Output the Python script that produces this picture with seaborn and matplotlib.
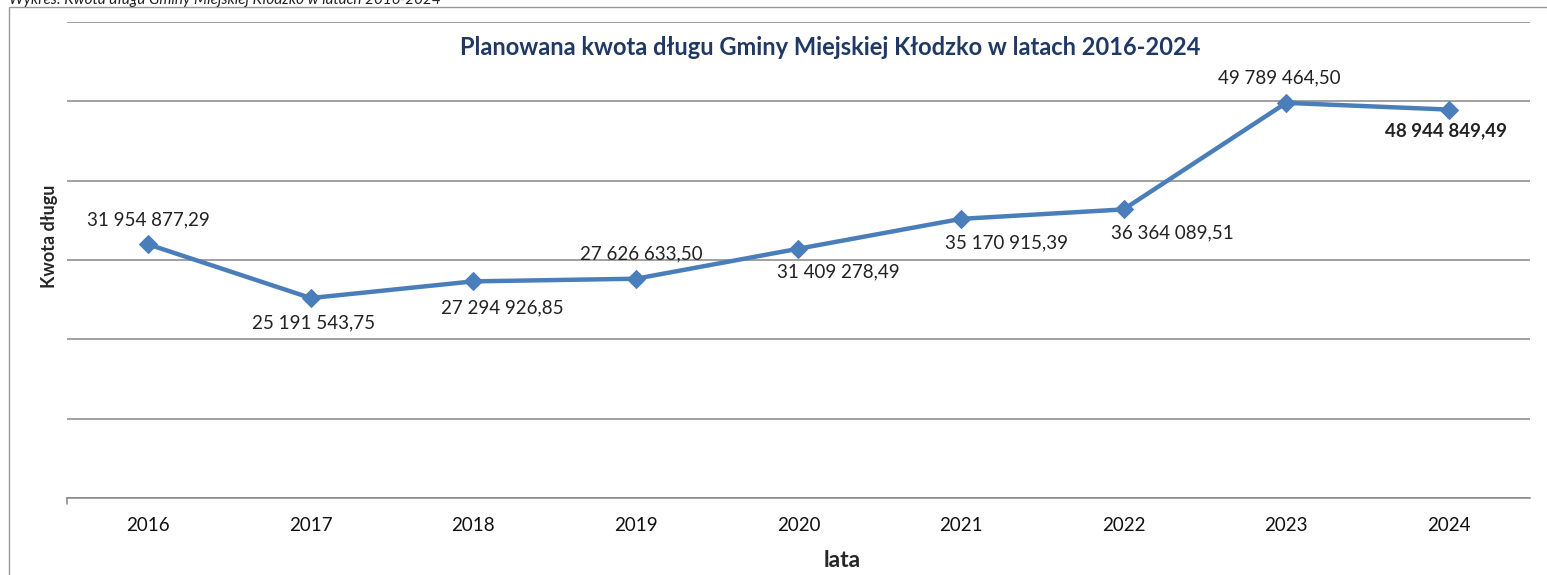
import matplotlib
matplotlib.use("Agg")
import matplotlib.pyplot as plt
import seaborn as sns
import pandas as pd
from matplotlib.patches import Rectangle

# dane z wykresu
lata = ["2016", "2017", "2018", "2019", "2020", "2021", "2022", "2023", "2024"]
kwota = [31954877.29, 25191543.75, 27294926.85, 27626633.50, 31409278.49,
         35170915.39, 36364089.51, 49789464.50, 48944849.49]
etykiety = ["31 954 877,29", "25 191 543,75", "27 294 926,85", "27 626 633,50",
            "31 409 278,49", "35 170 915,39", "36 364 089,51", "49 789 464,50",
            "48 944 849,49"]

df = pd.DataFrame({"rok": range(len(lata)), "kwota": kwota})

sns.set_style("white")
plt.rcParams["font.family"] = ["Lato", "DejaVu Sans"]

fig = plt.figure(figsize=(15.47, 5.75), dpi=100)
ax = fig.add_axes([0.0433, 0.134, 0.9457, 0.828])

sns.lineplot(data=df, x="rok", y="kwota", ax=ax, color="#4a7ebb", linewidth=3.2,
             marker="D", markersize=9, markeredgecolor="#4a7ebb")

ax.set_xlim(-0.5, 8.5)
ax.set_ylim(0, 60e6)
ax.set_yticks([i * 10e6 for i in range(7)])
ax.yaxis.grid(True, color="#868686", linewidth=1.1)
ax.set_yticklabels([])
ax.tick_params(axis="y", length=0)
ax.set_xticks(range(len(lata)))
ax.set_xticklabels(lata, fontsize=13.5, color="#111111")
ax.tick_params(axis="x", length=0, pad=14)
for s in ["left", "right", "top"]:
    ax.spines[s].set_visible(False)
ax.spines["bottom"].set_color("#868686")
ax.spines["bottom"].set_linewidth(1.1)
ax.plot([-0.5, -0.5], [0, -0.8e6], color="#868686", lw=1.1, clip_on=False)

ax.set_xlabel("lata", fontsize=16.5, fontweight="bold")
ax.xaxis.set_label_coords(0.53, -0.11)
ax.set_ylabel("Kwota długu", fontsize=13, fontweight="bold")
ax.yaxis.set_label_coords(-0.006, 0.55)

# etykiety danych (przesuniecia w punktach)
przes = [(0, 18), (2, -18), (21, -19), (4, 18), (29, -17), (33, -17), (35, -17), (-5, 18), (-2, -15)]
for i, (v, t) in enumerate(zip(kwota, etykiety)):
    dx, dy = przes[i]
    ax.annotate(t, (i, v), xytext=(dx, dy), textcoords="offset points",
                ha="center", va="center", fontsize=13.5, color="#222222",
                fontweight="bold" if i == 8 else "normal")

ax.text(0.5215, 0.947, "Planowana kwota długu Gminy Miejskiej Kłodzko w latach 2016-2024",
        transform=ax.transAxes, ha="center", va="center", fontsize=17,
        fontweight="bold", color="#1f3864")

fig.patches.append(Rectangle((0.006, -0.05), 1.2, 1.037, transform=fig.transFigure,
                             fill=False, edgecolor="#9a9a9a", linewidth=1.0))
fig.text(0.006, 1.0, "Wykres: Kwota długu Gminy Miejskiej Kłodzko w latach 2016-2024",
         fontsize=11, style="italic", color="#222222", va="center", ha="left")

fig.savefig("out.png", dpi=100)
